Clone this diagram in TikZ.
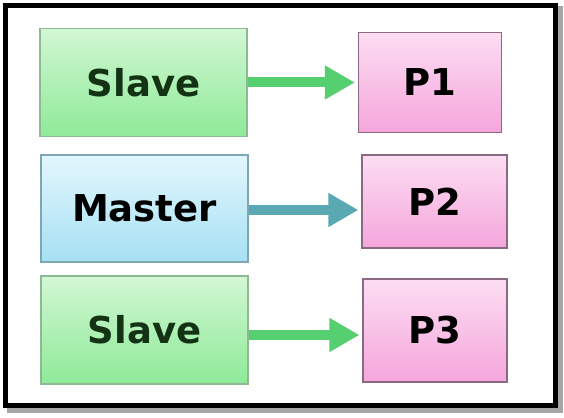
\documentclass[tikz,border=0pt]{standalone}
\usepackage{fontspec}
\setmainfont{DejaVu Sans}
\usetikzlibrary{arrows.meta}
\definecolor{slavetop}{HTML}{D2F7D4}
\definecolor{slavebot}{HTML}{8EEA98}
\definecolor{slaveline}{HTML}{8FB894}
\definecolor{mastertop}{HTML}{E2F7FD}
\definecolor{masterbot}{HTML}{A6E0F3}
\definecolor{masterline}{HTML}{7FA7B3}
\definecolor{proctop}{HTML}{FCDDF2}
\definecolor{procbot}{HTML}{F5A6DC}
\definecolor{procline}{HTML}{8A6A82}
\definecolor{greenarrow}{HTML}{55CF70}
\definecolor{tealarrow}{HTML}{5AA8B2}
\definecolor{slavetext}{HTML}{143214}
\begin{document}
\begin{tikzpicture}[x=1pt, y=-1pt]
    % Define styles
    \tikzstyle{slave} = [draw=slaveline, line width=1.2pt, top color=slavetop, bottom color=slavebot, minimum width=207pt, minimum height=108pt, font=\fontsize{37}{44}\selectfont\bfseries, text=slavetext]
    \tikzstyle{master} = [draw=masterline, line width=1.2pt, top color=mastertop, bottom color=masterbot, minimum width=207pt, minimum height=107pt, font=\fontsize{37}{44}\selectfont\bfseries]
    \tikzstyle{proc} = [draw=procline, line width=1.2pt, top color=proctop, bottom color=procbot, minimum width=143pt, minimum height=100pt, font=\fontsize{37}{44}\selectfont\bfseries]
    \tikzstyle{arrow} = [line width=10pt, -{Triangle[width=32pt,length=30pt]}, shorten >=3pt]

    \useasboundingbox (0,0) rectangle (564,417);

    % Frame with shadow
    \draw[line width=5pt, black!35] (9,9) rectangle (560,410);
    \fill[white] (6,6) rectangle (555,405);
    \draw[line width=5pt] (5.5,5.5) rectangle (555.5,405.5);

    % Left column
    \node[slave] (s1) at (143.5,82.5) {Slave};
    \node[master] (m) at (144.5,208.5) {Master};
    \node[slave] (s2) at (144.5,330) {Slave};

    % Right column
    \node[proc] (p1) at (430,82.5) {P1};
    \node[proc, minimum width=145pt, minimum height=93pt] (p2) at (434.5,201.5) {P2};
    \node[proc, minimum width=144pt, minimum height=103pt] (p3) at (435,330.5) {P3};

    % Arrows
    \draw[arrow, greenarrow] (s1) -- (s1 -| p1.west);
    \draw[arrow, tealarrow] ([yshift=-1.5pt]m.east) -- ([yshift=-1.5pt]m.east -| p2.west);
    \draw[arrow, greenarrow] ([yshift=-5pt]s2.east) -- ([yshift=-5pt]s2.east -| p3.west);

\end{tikzpicture}
\end{document}
